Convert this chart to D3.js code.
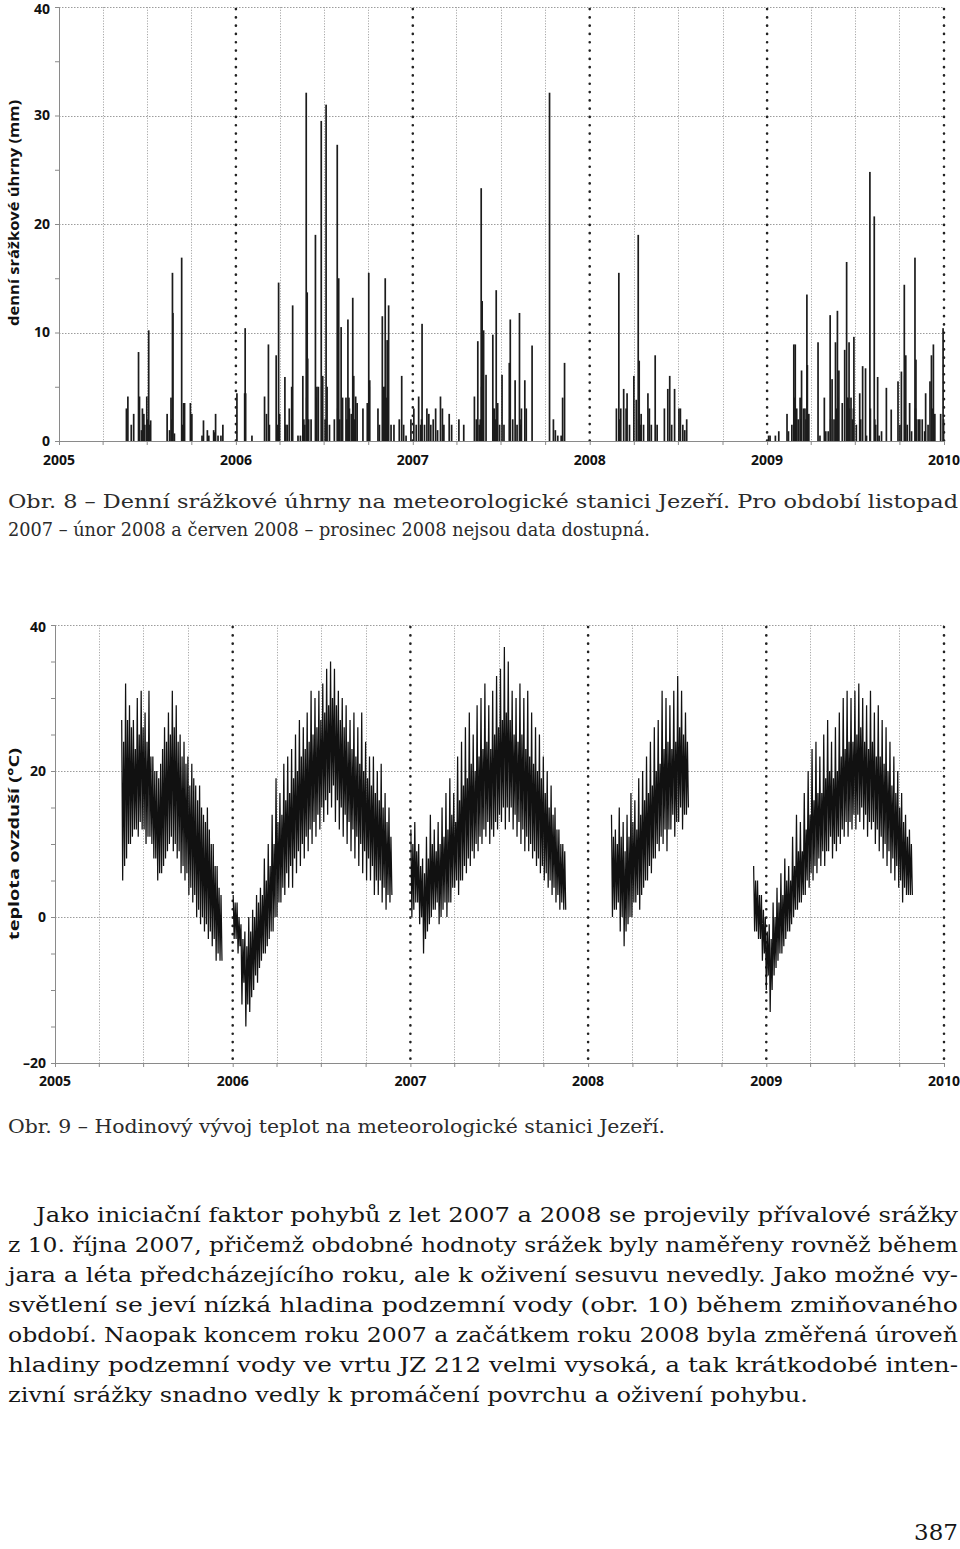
<!DOCTYPE html>
<html><head><meta charset="utf-8">
<script src="https://cdn.jsdelivr.net/npm/d3@7"></script>
<style>body{margin:0;background:#fff}svg{display:block}</style>
</head><body><svg id="c" width="960" height="1549"></svg>
<script>
// ---------- DATA ----------
const years = ["2005","2006","2007","2008","2009","2010"];
const precipTicks = [0,5,10,15,20,25,30,35,40];
const precipLabels = [0,10,20,30,40];
const tempTicks = [-20,-15,-10,-5,0,5,10,15,20,25,30,35,40];
const tempLabels = [-20,0,20,40];

const precipDates = [
"2005-05-20","2005-05-23","2005-05-30","2005-06-04","2005-06-14","2005-06-16","2005-06-22","2005-06-25","2005-07-01","2005-07-05","2005-07-09",
"2005-08-12","2005-08-17","2005-08-20","2005-08-23","2005-08-24","2005-08-27","2005-09-11","2005-09-15","2005-09-17","2005-09-29","2005-10-02",
"2005-10-23","2005-10-26","2005-11-03","2005-11-06","2005-11-16","2005-11-20","2005-11-25","2005-12-01","2005-12-05",
"2006-01-03","2006-01-19","2006-01-20","2006-02-03","2006-03-01","2006-03-05","2006-03-09","2006-03-25","2006-03-30","2006-04-01","2006-04-12",
"2006-04-17","2006-04-21","2006-04-26","2006-04-28","2006-05-09","2006-05-14","2006-05-19","2006-05-21","2006-05-26","2006-05-28","2006-05-29",
"2006-06-05","2006-06-14","2006-06-17","2006-06-20","2006-06-26","2006-06-29","2006-07-06","2006-07-13","2006-07-23","2006-07-29","2006-08-01",
"2006-08-06","2006-08-09","2006-08-16","2006-08-20","2006-08-23","2006-08-27","2006-08-30","2006-09-01","2006-09-05","2006-09-08","2006-09-20",
"2006-09-29","2006-10-02","2006-10-04","2006-10-21","2006-10-24","2006-10-30","2006-11-02","2006-11-05","2006-11-09","2006-11-12","2006-11-17",
"2006-11-23","2006-12-04","2006-12-09","2006-12-13","2006-12-18","2006-12-28",
"2007-01-03","2007-01-08","2007-01-13","2007-01-17","2007-01-20","2007-01-25","2007-01-30","2007-02-03","2007-02-07","2007-02-12","2007-02-17",
"2007-02-21","2007-02-27","2007-03-03","2007-03-06","2007-03-17","2007-03-22","2007-04-06","2007-04-16","2007-05-08","2007-05-12","2007-05-15",
"2007-05-18","2007-05-22","2007-05-24","2007-05-27","2007-06-01","2007-06-15","2007-06-18","2007-06-22","2007-06-25","2007-06-29","2007-07-04",
"2007-07-08","2007-07-19","2007-07-21","2007-07-26","2007-07-31","2007-08-04","2007-08-09","2007-08-13","2007-08-20","2007-08-23","2007-09-04",
"2007-10-10","2007-10-18","2007-10-22","2007-10-27","2007-11-03","2007-11-06","2007-11-10",
"2008-02-25","2008-03-01","2008-03-05","2008-03-11","2008-03-16","2008-03-18","2008-03-23","2008-04-01","2008-04-06","2008-04-10","2008-04-12",
"2008-04-16","2008-04-21","2008-04-30","2008-05-03","2008-05-07","2008-05-15","2008-05-19","2008-06-03","2008-06-10","2008-06-14","2008-06-18",
"2008-06-24","2008-07-03","2008-07-06","2008-07-11","2008-07-15","2008-07-19",
"2009-01-04","2009-01-07","2009-01-18","2009-01-25","2009-02-11","2009-02-14","2009-02-21","2009-02-25","2009-02-28","2009-03-03","2009-03-06",
"2009-03-10","2009-03-13","2009-03-17","2009-03-20","2009-03-24","2009-03-25","2009-03-28","2009-04-16","2009-04-20","2009-04-29","2009-05-02",
"2009-05-07","2009-05-11","2009-05-15","2009-05-19","2009-05-22","2009-05-26","2009-05-29","2009-06-05","2009-06-10","2009-06-14","2009-06-17",
"2009-06-19","2009-06-23","2009-06-26","2009-06-29","2009-07-04","2009-07-11","2009-07-13","2009-07-17","2009-07-23","2009-07-25","2009-08-01",
"2009-08-10","2009-08-13","2009-08-17","2009-08-20","2009-08-25","2009-09-04","2009-09-14","2009-09-28","2009-10-02","2009-10-05","2009-10-11",
"2009-10-14","2009-10-17","2009-10-22","2009-10-26","2009-11-02","2009-11-04","2009-11-09","2009-11-12","2009-11-17","2009-11-22","2009-11-24",
"2009-11-29","2009-12-03","2009-12-06","2009-12-10","2009-12-13","2009-12-25","2009-12-30",
"2005-06-20","2005-06-27","2005-07-03","2005-07-07","2005-08-22","2005-09-13","2005-11-18",
"2006-01-21","2006-03-11","2006-03-28","2006-04-14","2006-05-23","2006-05-27","2006-05-31","2006-06-15","2006-06-27","2006-07-04",
"2006-07-08","2006-07-30","2006-08-03","2006-08-18","2006-08-22","2006-09-03","2006-10-03","2006-11-04","2006-11-07","2006-11-11",
"2007-01-19","2007-05-20","2007-05-23","2007-05-25","2007-06-16","2007-06-20","2007-07-20","2007-08-10","2007-08-11",
"2008-03-02","2008-04-11","2008-04-14",
"2009-02-26","2009-03-11","2009-03-22","2009-05-12","2009-05-24","2009-05-27","2009-06-15","2009-06-20","2009-06-28","2009-08-02",
"2009-08-11","2009-10-12","2009-11-03","2009-11-05","2009-12-09","2009-12-31"
];
const precipValues = [
3.0,4.1,1.5,2.5,8.2,4.1,3.0,2.5,4.1,10.2,1.9,
2.5,1.0,4.0,15.5,11.8,0.7,16.9,3.5,3.5,3.5,2.5,
0.5,1.9,1.0,0.5,1.0,2.5,0.5,0.5,1.5,
4.4,4.4,10.4,0.5,4.1,2.5,8.9,7.9,14.6,2.5,5.9,
1.5,3.0,5.0,12.5,0.5,0.5,6.0,2.0,32.1,13.7,7.6,
2.0,19.0,5.0,5.0,29.5,6.0,31.0,1.5,2.0,27.3,15.0,
10.5,4.0,4.0,11.2,3.0,2.5,13.2,6.0,4.1,3.5,3.0,
3.5,15.5,5.6,3.0,1.5,11.5,5.0,15.0,9.3,12.5,1.5,
1.5,2.0,6.0,1.5,0.5,2.0,
3.0,1.5,4.1,1.5,10.8,1.5,3.0,2.5,1.5,2.0,3.0,
1.0,4.1,3.0,1.5,2.5,1.5,2.0,1.5,4.1,2.0,9.2,
1.5,23.3,12.9,10.2,6.1,9.8,3.0,13.9,3.5,1.5,6.1,
1.5,7.2,11.2,2.0,5.6,1.5,11.8,3.0,5.6,3.0,8.8,
32.1,2.0,1.0,0.5,0.5,4.0,7.2,
3.0,15.5,3.0,4.8,3.0,4.4,1.5,6.0,3.8,19.0,7.4,
2.5,1.5,4.4,3.0,1.5,7.9,1.5,3.0,4.8,6.0,1.5,
4.8,3.0,3.0,1.5,1.0,2.0,
0.5,0.5,0.5,0.9,2.5,0.9,1.5,8.9,8.9,3.0,2.0,
4.0,6.5,3.0,3.0,13.5,7.0,2.5,9.1,0.5,4.0,0.9,
0.9,11.6,5.7,2.0,9.1,12.0,6.5,3.5,8.4,16.5,4.0,
9.1,4.0,2.0,9.6,1.5,4.4,2.0,6.9,6.7,0.5,24.8,
20.7,1.5,5.9,0.5,0.9,4.9,2.9,5.5,1.5,6.4,14.4,
7.9,1.5,3.5,0.9,16.9,7.5,2.0,2.0,2.0,0.9,4.4,
1.5,5.5,7.9,8.9,2.5,2.5,10.4,
1.0,1.5,2.0,1.5,2.0,1.5,0.8,
4.4,1.5,1.5,1.5,1.5,4.0,2.0,4.0,5.0,2.0,
5.0,3.0,2.0,2.0,4.0,2.0,5.0,5.0,4.0,2.0,
2.0,2.0,5.0,6.0,3.0,2.0,2.0,2.0,1.5,
2.0,2.0,1.5,
4.0,2.0,2.0,2.0,3.0,4.0,4.0,3.0,3.0,3.0,
2.0,6.0,3.0,2.0,3.0,2.0
];

// hourly temperature summarised as 4-day samples (lowest, highest) for each recording period
const tempStepDays = 4;
const tempSegmentStarts = ["2005-05-18","2006-01-02","2007-01-02","2008-02-18","2008-12-06"];
const tempHigh2005 = [27,24,32,27,29,26,27,23,30,25,31,26,28,24,31,22,22,20,20,19,21,23,26,24,28,25,31,26,29,24,25,22,24,21,22,18,21,19,18,16,18,15,14,13,15,12,10,10,7,7,4,3];
const tempLow2005  = [5,7,8,10,10,11,12,12,11,13,12,12,10,11,11,10,8,8,5,6,6,7,8,9,10,11,9,10,8,9,6,7,5,6,3,4,2,3,0,1,-1,0,-2,-1,-3,-2,-4,-3,-6,-5,-6,-6];
const tempHigh2006 = [3,2,2,0,-1,-3,-2,-4,0,-2,1,0,3,2,4,3,8,5,10,7,14,10,19,13,17,14,21,16,22,17,23,19,25,20,27,22,26,23,28,24,31,25,30,26,31,27,32,28,34,29,35,30,34,29,31,27,30,26,29,24,27,23,28,22,26,21,28,20,24,19,22,18,22,17,20,16,21,15,17,13,15,11];
const tempLow2006  = [-3,-3,-5,-4,-12,-9,-15,-12,-13,-11,-10,-8,-9,-7,-6,-5,-5,-4,-3,-2,-2,0,0,2,2,4,3,6,4,7,4,8,6,9,7,10,8,11,9,12,10,13,11,14,12,15,13,16,14,17,15,18,13,16,12,15,11,14,10,13,9,12,8,11,7,10,6,9,5,8,5,7,3,5,3,5,2,4,1,3,2,3];
const tempHigh2007 = [12,10,13,9,10,7,8,6,11,8,14,10,12,9,13,10,15,11,17,12,19,14,17,13,22,16,24,18,26,19,28,21,25,20,29,22,30,23,32,24,29,23,31,25,33,26,34,27,37,28,35,27,31,25,30,24,32,25,30,23,31,22,28,21,26,20,25,19,22,17,20,15,18,14,15,12,12,10,10,9];
const tempLow2007  = [0,1,2,2,-1,0,-5,-3,-2,-1,0,1,1,2,-1,0,1,2,0,2,2,4,4,5,3,5,5,7,6,8,7,9,8,10,9,11,10,12,11,13,10,12,11,13,12,14,13,15,12,15,13,15,12,14,11,13,10,12,9,11,9,10,8,9,7,8,6,7,5,6,4,5,3,4,2,3,1,2,1,1];
const tempHigh2008 = [14,11,12,10,15,11,13,9,14,11,17,13,16,12,19,14,20,16,22,17,24,18,26,20,27,21,31,23,30,24,29,23,31,24,33,26,31,25,28,24];
const tempLow2008  = [0,1,1,2,-2,0,-4,-2,-1,0,0,2,2,3,1,3,4,5,5,7,6,8,8,10,9,11,10,12,9,12,12,14,11,13,13,15,12,14,14,15];
const tempHigh2009 = [7,5,5,3,3,1,0,-2,-1,-3,2,0,4,2,6,3,8,5,7,5,11,7,14,9,13,9,17,12,20,14,23,16,24,17,22,17,25,19,27,20,24,19,26,20,28,22,30,23,31,24,30,24,31,25,32,26,30,24,29,23,31,24,28,22,29,22,27,21,26,20,24,18,22,17,20,15,17,13,14,11,12,10];
const tempLow2009  = [-2,-2,-3,-3,-6,-5,-10,-8,-13,-10,-8,-7,-6,-5,-5,-4,-3,-2,-2,-1,0,1,1,2,2,3,3,5,4,6,5,7,6,8,7,9,7,9,9,11,8,10,9,11,10,12,11,13,11,13,12,14,12,14,13,15,12,14,11,13,12,13,10,12,9,11,8,10,7,9,6,8,5,7,4,5,2,4,3,3,3,3];
const tempHigh = [tempHigh2005, tempHigh2006, tempHigh2007, tempHigh2008, tempHigh2009];
const tempLow  = [tempLow2005, tempLow2006, tempLow2007, tempLow2008, tempLow2009];

const caption8 = ["Obr. 8 – Denní srážkové úhrny na meteorologické stanici Jezeří. Pro období listopad",
                  "2007 – únor 2008 a červen 2008 – prosinec 2008 nejsou data dostupná."];
const caption9 = "Obr. 9 – Hodinový vývoj teplot na meteorologické stanici Jezeří.";
const paragraph = [
"Jako iniciační faktor pohybů z let 2007 a 2008 se projevily přívalové srážky",
"z 10. října 2007, přičemž obdobné hodnoty srážek byly naměřeny rovněž během",
"jara a léta předcházejícího roku, ale k oživení sesuvu nevedly. Jako možné vy-",
"světlení se jeví nízká hladina podzemní vody (obr. 10) během zmiňovaného",
"období. Naopak koncem roku 2007 a začátkem roku 2008 byla změřená úroveň",
"hladiny podzemní vody ve vrtu JZ 212 velmi vysoká, a tak krátkodobé inten-",
"zivní srážky snadno vedly k promáčení povrchu a oživení pohybu."
];
const pageNumber = "387";

// ---------- DRAWING ----------
const svg = d3.select("#c");
const parse = d3.timeParse("%Y-%m-%d");
const yearDates = years.map(y => new Date(+y, 0, 1));
const quarterDates = d3.timeMonth.every(3).range(yearDates[0], d3.timeDay.offset(yearDates[yearDates.length-1], 1));
const dash = v => v < 0 ? "\u2013" + Math.abs(v) : String(v);
const labelFont = "'Open Sans', 'DejaVu Sans', sans-serif";

function frame(o) {
  const g = svg.append("g");
  const x = d3.scaleTime().domain([yearDates[0], yearDates[yearDates.length-1]]).range([o.x0, o.x1]);
  const y = d3.scaleLinear().domain(o.domain).range([o.yb, o.yt]);
  g.append("g").selectAll("line").data(o.grid).join("line")
    .attr("x1", o.x0).attr("x2", o.x1)
    .attr("y1", d => Math.round(y(d)) + 0.5).attr("y2", d => Math.round(y(d)) + 0.5)
    .attr("stroke", "#9c9c9c").attr("stroke-width", 1).attr("stroke-dasharray", "1.5,1.5");
  const isYear = d => d.getMonth() === 0;
  g.append("g").selectAll("line").data(quarterDates.filter(d => !isYear(d))).join("line")
    .attr("x1", d => Math.round(x(d)) + 0.5).attr("x2", d => Math.round(x(d)) + 0.5)
    .attr("y1", o.yt).attr("y2", o.yb)
    .attr("stroke", "#a8a8a8").attr("stroke-width", 1).attr("stroke-dasharray", "1.2,1.5");
  g.append("g").selectAll("line").data(yearDates.slice(1)).join("line")
    .attr("x1", d => x(d)).attr("x2", d => x(d))
    .attr("y1", o.yt + 2).attr("y2", o.yb)
    .attr("stroke", "#222").attr("stroke-width", 2.6).attr("stroke-linecap", "round")
    .attr("stroke-dasharray", "0.1,8.2");
  const data = g.append("g");
  const ax = g.append("g").attr("transform", `translate(0,${o.yb})`)
    .call(d3.axisBottom(x).tickValues(quarterDates).tickSize(4).tickFormat(""));
  ax.select(".domain").attr("stroke", "#8a8a8a");
  ax.selectAll(".tick line").attr("stroke", "#8a8a8a");
  const ay = g.append("g").attr("transform", `translate(${o.x0},0)`)
    .call(d3.axisLeft(y).tickValues(o.ticks).tickSize(4).tickPadding(5)
      .tickFormat(d => o.labels.includes(d) ? dash(d) : ""));
  ay.select(".domain").attr("stroke", "#8a8a8a");
  ay.selectAll(".tick line").attr("stroke", "#8a8a8a");
  ay.selectAll(".tick text").attr("font-family", labelFont).attr("font-weight", 700)
    .attr("font-size", 14).attr("fill", "#111")
    .attr("dy", d => d === o.domain[1] ? "0.45em" : "0.32em");
  g.append("g").selectAll("text").data(years).join("text")
    .attr("x", (d, i) => x(yearDates[i])).attr("y", o.yb + o.yearDy)
    .attr("text-anchor", "middle").attr("font-family", labelFont).attr("font-weight", 700)
    .attr("font-size", 14).attr("fill", "#111").text(d => d);
  g.append("text").attr("transform", `translate(${o.titleX},${o.titleY}) rotate(-90)`)
    .attr("text-anchor", "middle").attr("dominant-baseline", "central")
    .attr("font-family", labelFont).attr("font-weight", 700).attr("font-size", 15).attr("fill", "#111")
    .attr("textLength", o.titleLen).attr("lengthAdjust", "spacingAndGlyphs").text(o.title);
  return {x, y, data};
}

// Chart 1 – precipitation
const c1 = frame({x0: 59, x1: 944, yt: 7, yb: 441, domain: [0, 40], grid: [10, 20, 30, 40],
  ticks: precipTicks, labels: precipLabels, yearDy: 24, titleX: 13, titleY: 213, titleLen: 226,
  title: "denní srážkové úhrny (mm)"});
c1.data.selectAll("rect").data(precipDates.map((d, i) => ({d: parse(d), v: precipValues[i]}))).join("rect")
  .attr("x", p => c1.x(p.d) - 0.8).attr("width", 1.7)
  .attr("y", p => c1.y(p.v)).attr("height", p => c1.y(0) - c1.y(p.v))
  .attr("fill", "#1c1c1c");

// Chart 2 – temperature
const c2 = frame({x0: 55, x1: 944, yt: 625, yb: 1063, domain: [-20, 40], grid: [0, 20, 40],
  ticks: tempTicks, labels: tempLabels, yearDy: 23, titleX: 13, titleY: 844, titleLen: 192,
  title: "teplota ovzduší (°C)"});
const line = d3.line().x(p => c2.x(p.d)).y(p => c2.y(p.v));
tempSegmentStarts.forEach((s, k) => {
  const start = parse(s);
  const pts = [];
  tempLow[k].forEach((lo, i) => {
    const d = d3.timeDay.offset(start, i * tempStepDays);
    pts.push({d: d, v: tempHigh[k][i]});
    pts.push({d: d3.timeDay.offset(d, tempStepDays / 2), v: lo});
  });
  c2.data.append("path").attr("d", line(pts)).attr("fill", "none")
    .attr("stroke", "#111").attr("stroke-width", 1.25).attr("stroke-linejoin", "bevel");
});

// ---------- TEXT ----------
const serif = "'DejaVu Serif', 'Liberation Serif', serif";
function textLine(t, x, y, len, size, fill, anchor) {
  const el = svg.append("text").attr("x", x).attr("y", y).attr("font-family", serif)
    .attr("font-size", size).attr("fill", fill).text(t);
  if (anchor) el.attr("text-anchor", anchor);
  if (len) el.attr("textLength", len).attr("lengthAdjust", "spacingAndGlyphs");
  return el;
}
textLine(caption8[0], 8, 508, 950, 19, "#2b2b2b");
textLine(caption8[1], 8, 536, 642, 19, "#2b2b2b");
textLine(caption9, 8, 1133, 657, 19, "#2b2b2b");
const paraX = [36, 8, 8, 8, 8, 8, 8];
const paraLen = [922, 950, 950, 950, 950, 950, 800];
paragraph.forEach((t, i) => textLine(t, paraX[i], 1222 + i * 30, paraLen[i], 20, "#161616"));
textLine(pageNumber, 958, 1540, null, 23, "#161616", "end");
</script>
</body></html>
